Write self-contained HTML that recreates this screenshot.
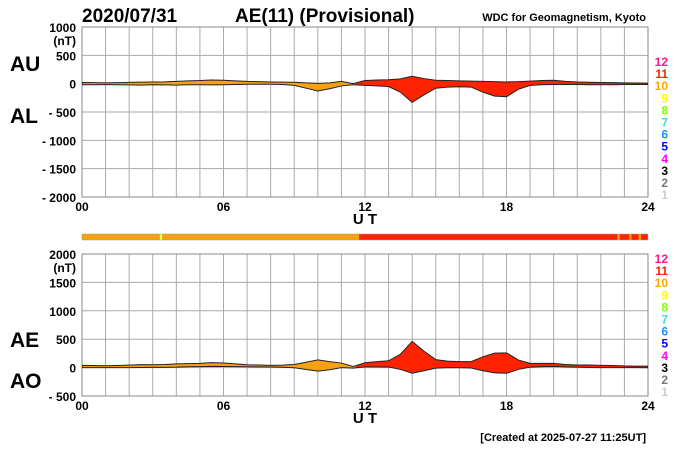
<!DOCTYPE html>
<html><head><meta charset="utf-8"><style>
body{margin:0;background:#fff;}
svg{display:block;font-family:"Liberation Sans",sans-serif;}
</style></head><body>
<svg id="chart" width="700" height="450" xmlns="http://www.w3.org/2000/svg">
<text x="82" y="22" font-size="19" font-weight="bold">2020/07/31</text>
<text x="235" y="22" font-size="19" font-weight="bold">AE(11) (Provisional)</text>
<text x="646" y="21" font-size="11" font-weight="bold" text-anchor="end">WDC for Geomagnetism, Kyoto</text>
<text x="10" y="71" font-size="21" font-weight="bold">AU</text>
<text x="10" y="123" font-size="21" font-weight="bold">AL</text>
<text x="10" y="347" font-size="21" font-weight="bold">AE</text>
<text x="10" y="388" font-size="21" font-weight="bold">AO</text>
<text x="646" y="441" font-size="11" font-weight="bold" text-anchor="end">[Created at 2025-07-27 11:25UT]</text>
<g id="g"></g>
</svg>
<script>
const hours = [0,0.5,1,1.5,2,2.5,3,3.5,4,4.5,5,5.5,6,6.5,7,7.5,8,8.5,9,9.5,10,10.5,11,11.5,12,12.5,13,13.5,14,14.5,15,15.5,16,16.5,17,17.5,18,18.5,19,19.5,20,20.5,21,21.5,22,22.5,23,23.5,24];
const auValues = [20,18,15,18,22,28,30,32,40,50,55,65,60,50,40,35,30,28,25,15,5,15,40,0,55,65,70,85,130,90,60,55,50,45,40,35,30,35,45,55,60,40,30,25,20,18,15,12,10];
const alValues = [-20,-20,-18,-20,-22,-25,-20,-22,-25,-20,-20,-22,-20,-15,-10,-10,-10,-15,-30,-80,-130,-90,-40,-20,-30,-40,-50,-150,-330,-200,-80,-60,-55,-60,-150,-220,-230,-100,-30,-20,-15,-15,-15,-20,-20,-20,-15,-15,-15];
const yTicksTop = [1000,500,0,-500,-1000,-1500,-2000];
const yTicksBot = [2000,1500,1000,500,0,-500];
const xTickLabels = ["00","06","12","18","24"];
const colorChangeHour = 11.6;
const barStripes = [[3.3,3.4,"#ffff40"],[11.6,11.75,"#ffa500"],[22.7,22.8,"#ffa500"],[23.2,23.3,"#ffa500"],[23.6,23.7,"#ffa500"]];
const levelNums = ["12","11","10","9","8","7","6","5","4","3","2","1"];
const levelColors = ["#ff1493","#ff2200","#ffa500","#ffff00","#80ff00","#40e0d0","#1e90ff","#0000ff","#ff00ff","#000","#777","#ccc"];

const NS="http://www.w3.org/2000/svg", g=document.getElementById('g');
const X0=82,X1=648;
const x=h=>X0+(X1-X0)*h/24;
function mk(t,a,p){const e=document.createElementNS(NS,t);for(const k in a)e.setAttribute(k,a[k]);(p||g).appendChild(e);return e;}
const aeValues=auValues.map((u,i)=>u-alValues[i]);
const aoValues=auValues.map((u,i)=>(u+alValues[i])/2);

function panel(name,yTop,yBot,vTop,vBot,ticks,upper,lower,legY){
  const y=v=>yTop+(vTop-v)*(yBot-yTop)/(vTop-vBot);
  for(let h=0;h<=24;h++){const l=mk('line',{x1:x(h),x2:x(h),y1:yTop,y2:yBot,stroke:'#aaa','stroke-width':1});
    }
  ticks.forEach((v,i)=>{const l=mk('line',{x1:X0,x2:X1,y1:y(v),y2:y(v),stroke:'#aaa','stroke-width':1});
    
    const t=mk('text',{x:76,y:y(v)+5,'font-size':12,'font-weight':'bold','text-anchor':'end'});
    t.textContent=v<0?'- '+(-v):String(v);
    
    if(i==0){const u=mk('text',{x:76,y:y(v)+18,'font-size':12,'font-weight':'bold','text-anchor':'end'});u.textContent='(nT)';
      }
  });
  const fr=mk('rect',{x:X0,y:yTop,width:X1-X0,height:yBot-yTop,fill:'none',stroke:'#888'});
  
  xTickLabels.forEach((s,i)=>{const t=mk('text',{x:x(i*6),y:yBot+14,'font-size':12,'font-weight':'bold','text-anchor':'middle'});t.textContent=s;
    });
  const ut=mk('text',{x:x(12),y:yBot+27,'font-size':15,'font-weight':'bold','text-anchor':'middle'});ut.textContent='U T';
  
  let pts=hours.map((h,i)=>x(h)+','+y(upper[i])).join(' ')+' '+hours.slice().reverse().map((h,j)=>x(h)+','+y(lower[hours.length-1-j])).join(' ');
  const cid=name+'clip';
  const defs=mk('defs',{});
  const c1=mk('clipPath',{id:cid+'a'},defs);mk('rect',{x:X0,y:0,width:x(colorChangeHour)-X0,height:450},c1);
  const c2=mk('clipPath',{id:cid+'b'},defs);mk('rect',{x:x(colorChangeHour),y:0,width:X1-x(colorChangeHour),height:450},c2);
  const p1=mk('polygon',{points:pts,fill:'#f7a010',stroke:'#222','stroke-width':1,'clip-path':'url(#'+cid+'a)'});
  
  const p2=mk('polygon',{points:pts,fill:'#ff2200',stroke:'#222','stroke-width':1,'clip-path':'url(#'+cid+'b)'});
  
  levelNums.forEach((n,i)=>{const t=mk('text',{x:668,y:legY+i*12.1,'font-size':12,'font-weight':'bold','text-anchor':'end',fill:levelColors[i]});t.textContent=n;
    });
}
panel('top',27,197,1000,-2000,yTicksTop,auValues,alValues,66);
panel('bottom',254,396,2000,-500,yTicksBot,aeValues,aoValues,263);
let b=mk('rect',{x:X0,y:234,width:x(colorChangeHour)-X0,height:6,fill:'#f7a010'});

b=mk('rect',{x:x(colorChangeHour),y:234,width:X1-x(colorChangeHour),height:6,fill:'#ff2200'});

barStripes.forEach(s=>{const r=mk('rect',{x:x(s[0]),y:234,width:x(s[1])-x(s[0]),height:6,fill:s[2]});
  });
b=mk('rect',{x:X0,y:234,width:X1-X0,height:6,fill:'none',stroke:'#999','stroke-width':0.5});

</script>
</body></html>
